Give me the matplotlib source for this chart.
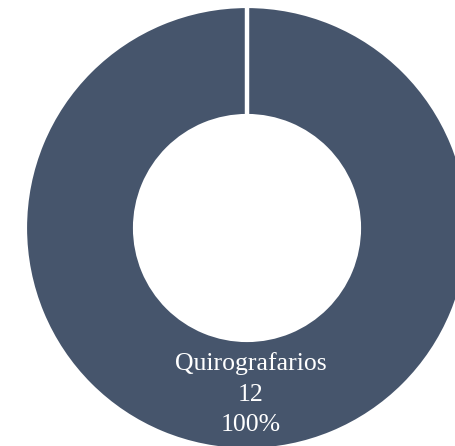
import matplotlib
matplotlib.use("Agg")
import matplotlib.pyplot as plt
import numpy as np

categories = ["Quirografarios"]
values = [12]
colors = ["#46556c"]

W, H = 455, 446
fig = plt.figure(figsize=(W / 100, H / 100), dpi=100)
ax = fig.add_axes([0, 0, 1, 1])

total = sum(values)
R = 222
wedges, texts = ax.pie(
    values,
    colors=colors,
    center=(247, H - 228),
    radius=R,
    startangle=90,
    counterclock=False,
    labels=[f"{c}\n{v}\n{v / total:.0%}" for c, v in zip(categories, values)],
    labeldistance=0.745,
    wedgeprops=dict(width=R - 112, edgecolor="white", linewidth=3),
    frame=True,
)
ax.set_xlim(0, W)
ax.set_ylim(0, H)
ax.set_aspect("equal")
ax.axis("off")

# white separator at the wedge boundary
for w in wedges:
    cx, cy = w.center
    for th in (w.theta1,):
        a = np.deg2rad(th)
        r0, r1 = w.r - w.width - 2, w.r + 2
        ax.plot([cx + r0 * np.cos(a), cx + r1 * np.cos(a)],
                [cy + r0 * np.sin(a), cy + r1 * np.sin(a)],
                color="white", lw=3.2, solid_capstyle="butt", zorder=5)

for t in texts:
    t.set_ha("center")
    t.set_va("center")
    t.set_color("white")
    t.set_fontsize(18.5)
    t.set_family("Liberation Serif")
    t.set_linespacing(1.5)
    x, y = t.get_position()
    t.set_position((x + 4, y - 1))

fig.savefig("out.png", dpi=100)
